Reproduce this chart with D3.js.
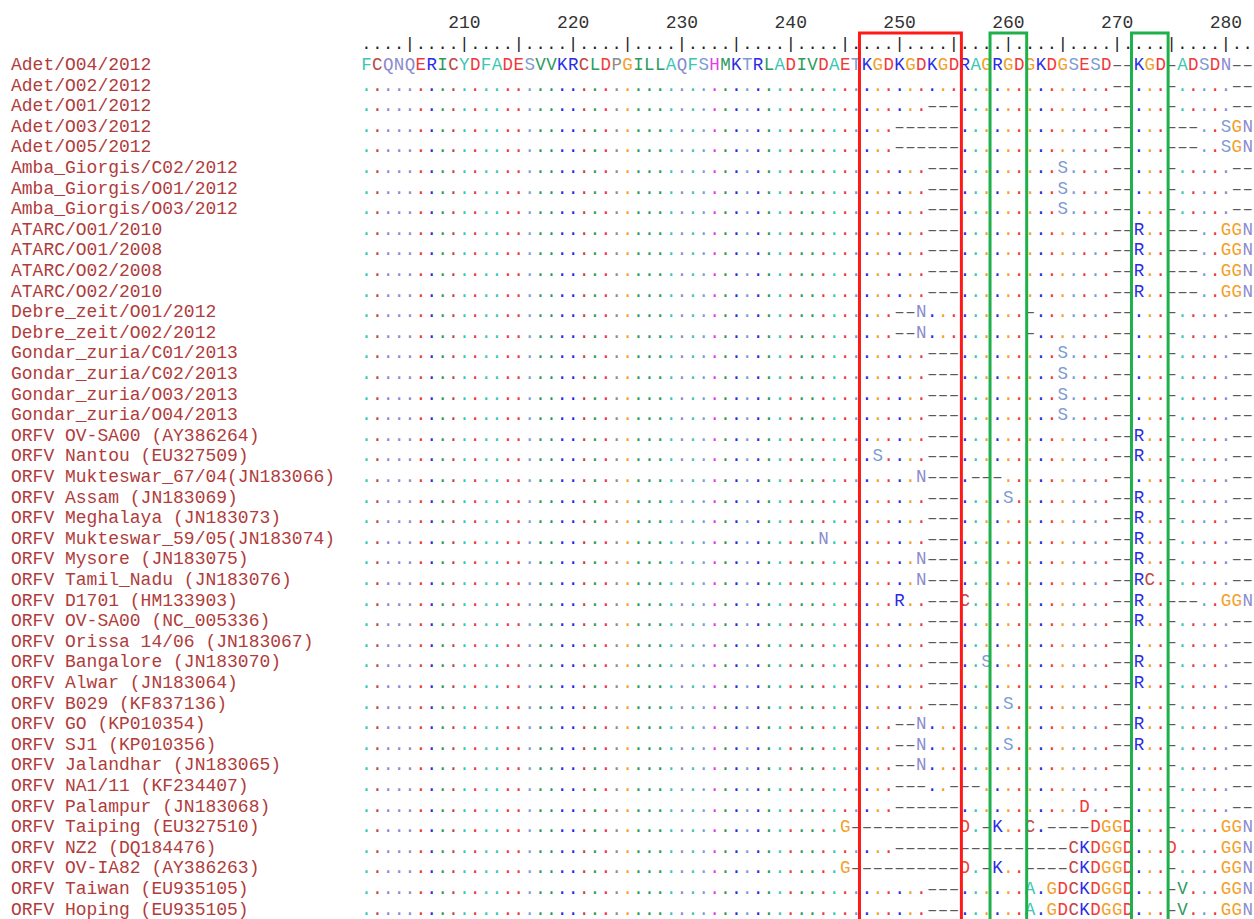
<!DOCTYPE html>
<html>
<head>
<meta charset="utf-8">
<script src="https://cdn.jsdelivr.net/npm/d3@7"></script>
<style>
  body { margin: 0; background: #fff; }
</style>
</head>
<body>
<div id="chart"></div>
<script>
// sequence names, top to bottom
const names = [
  "Adet/O04/2012", "Adet/O02/2012", "Adet/O01/2012", "Adet/O03/2012", "Adet/O05/2012",
  "Amba_Giorgis/C02/2012", "Amba_Giorgis/O01/2012", "Amba_Giorgis/O03/2012",
  "ATARC/O01/2010", "ATARC/O01/2008", "ATARC/O02/2008", "ATARC/O02/2010",
  "Debre_zeit/O01/2012", "Debre_zeit/O02/2012",
  "Gondar_zuria/C01/2013", "Gondar_zuria/C02/2013", "Gondar_zuria/O03/2013", "Gondar_zuria/O04/2013",
  "ORFV OV-SA00 (AY386264)", "ORFV Nantou (EU327509)", "ORFV Mukteswar_67/04(JN183066)",
  "ORFV Assam (JN183069)", "ORFV Meghalaya (JN183073)", "ORFV Mukteswar_59/05(JN183074)",
  "ORFV Mysore (JN183075)", "ORFV Tamil_Nadu (JN183076)", "ORFV D1701 (HM133903)",
  "ORFV OV-SA00 (NC_005336)", "ORFV Orissa 14/06 (JN183067)", "ORFV Bangalore (JN183070)",
  "ORFV Alwar (JN183064)", "ORFV B029 (KF837136)", "ORFV GO (KP010354)", "ORFV SJ1 (KP010356)",
  "ORFV Jalandhar (JN183065)", "ORFV NA1/11 (KF234407)", "ORFV Palampur (JN183068)",
  "ORFV Taiping (EU327510)", "ORFV NZ2 (DQ184476)", "ORFV OV-IA82 (AY386263)",
  "ORFV Taiwan (EU935105)", "ORFV Hoping (EU935105)"
];

// alignment columns 201..282
const positions = d3.range(201, 283);
const tickLabels = [210, 220, 230, 240, 250, 260, 270, 280];

// reference row (first sequence)
const reference = "FCQNQERICYDFADESVVKRCLDPGILLAQFSHMKTRLADIVDAETKGDKGDKGDRAGRGDGKDGSESD--KGD-ADSDN--";

// columns 201-240 are identical in every other row
const head = "........................................";

// columns 241-282 of the other rows ('.' = same as reference, '-' = gap)
const tails = [
  ".........." + ".........." + ".........-" + "-...-....." + "--", // Adet/O02
  ".........." + "..---....." + ".........-" + "-...-....." + "--", // Adet/O01
  ".........-" + "-----....." + ".........-" + "-...---..S" + "GN", // Adet/O03
  ".........-" + "-----....." + ".........-" + "-...---..S" + "GN", // Adet/O05
  ".........." + "..---....." + "....S....-" + "-...-....." + "--", // Amba C02
  ".........." + "..---....." + "....S....-" + "-...-....." + "--", // Amba O01
  ".........." + "..---....." + "....S....-" + "-...-....." + "--", // Amba O03
  ".........." + "..---....." + ".........-" + "-R..---..G" + "GN", // ATARC
  ".........." + "..---....." + ".........-" + "-R..---..G" + "GN",
  ".........." + "..---....." + ".........-" + "-R..---..G" + "GN",
  ".........." + "..---....." + ".........-" + "-R..---..G" + "GN",
  ".........-" + "-N........" + ".-.......-" + "-...-....." + "--", // Debre_zeit
  ".........-" + "-N........" + ".-.......-" + "-...-....." + "--",
  ".........." + "..---....." + "....S....-" + "-...-....." + "--", // Gondar
  ".........." + "..---....." + "....S....-" + "-...-....." + "--",
  ".........." + "..---....." + "....S....-" + "-...-....." + "--",
  ".........." + "..---....." + "....S....-" + "-...-....." + "--",
  ".........." + "..---....." + ".........-" + "-R..-....." + "--", // OV-SA00 AY
  ".......S.." + "..---....." + ".........-" + "-R..-....." + "--", // Nantou
  ".........." + ".N---.---." + ".........-" + "-...-....." + "--", // Mukteswar_67/04
  ".........." + "..---....S" + ".........-" + "-R..-....." + "--", // Assam
  ".........." + "..---....." + ".........-" + "-R..-....." + "--", // Meghalaya
  "..N......." + "..---....." + ".........-" + "-R..-....." + "--", // Mukteswar_59/05
  ".........." + ".N---....." + ".........-" + "-R..-....." + "--", // Mysore
  ".........." + ".N---....." + ".........-" + "-RC.-....." + "--", // Tamil_Nadu
  ".........R" + "..---C...." + ".........-" + "-R..---..G" + "GN", // D1701
  ".........." + "..---....." + ".........-" + "-R..-....." + "--", // OV-SA00 NC
  ".........." + "..---....." + ".........-" + "-...-....." + "--", // Orissa
  ".........." + "..---..S.." + ".........-" + "-R..-....." + "--", // Bangalore
  ".........." + "..---....." + ".........-" + "-R..-....." + "--", // Alwar
  ".........." + "..---....S" + ".........-" + "-...-....." + "--", // B029
  ".........-" + "-N........" + ".........-" + "-R..-....." + "--", // GO
  ".........-" + "-N.......S" + ".........-" + "-R..-....." + "--", // SJ1
  ".........-" + "-N........" + ".........-" + "-...-....." + "--", // Jalandhar
  ".........-" + "--..---..." + ".........-" + "-...-....." + "--", // NA1/11
  ".........-" + "-----....." + "......D..-" + "-...-....." + "--", // Palampur
  "....G-----" + "-----D.-K." + ".C.----DGG" + "D...-....G" + "GN", // Taiping
  ".........-" + "----------" + "-----CKDGG" + "D...D....G" + "GN", // NZ2
  "....G-----" + "-----D.-K." + ".----CKDGG" + "D...-....G" + "GN", // OV-IA82
  ".........." + "..---....." + ".A.GDCKDGG" + "D...-V...G" + "GN", // Taiwan
  ".........." + "..---....." + ".A.GDCKDGG" + "D...-V...G" + "GN"  // Hoping
];

const sequences = [reference].concat(tails.map(t => head + t));

// boxed motifs [first column, last column]
const redBoxes = [[247, 255]];
const greenBoxes = [[259, 261], [272, 274]];

const residueColors = {
  F: "#3cc6b4", Y: "#3cc6b4", A: "#3cc6b4",
  C: "#c24646", Q: "#8a8ad0", N: "#8a8ad0",
  E: "#f23838", D: "#f23838",
  R: "#2b2be6", K: "#2b2be6",
  I: "#2f9a5e", V: "#2f9a5e", L: "#2f9a5e", M: "#2f9a5e",
  S: "#7d9bd4", T: "#7d9bd4",
  P: "#8c8c8c", G: "#f2a22c", H: "#e83ae8"
};

const width = 1254, height = 919;
const font = "'Courier New', 'Liberation Mono', monospace";

const svg = d3.select("#chart").append("svg")
  .attr("width", width)
  .attr("height", height)
  .style("display", "block");

const x = d3.scaleBand()
  .domain(positions)
  .range([361, 361 + positions.length * 10.88]);

const y = d3.scalePoint()
  .domain(names)
  .range([70, 914.6]);

const bw = x.bandwidth();

// ruler numbers
svg.append("g").selectAll("text")
  .data(tickLabels)
  .enter().append("text")
  .attr("x", d => x(d) + bw / 2)
  .attr("y", 28)
  .attr("text-anchor", "middle")
  .attr("font-family", font)
  .attr("font-size", 18)
  .attr("fill", "#333")
  .text(d => d);

// ruler marks
svg.append("g").selectAll("text")
  .data(positions)
  .enter().append("text")
  .attr("x", d => x(d) + bw / 2)
  .attr("y", 49)
  .attr("text-anchor", "middle")
  .attr("font-family", font)
  .attr("font-size", 17)
  .attr("fill", "#222")
  .text(d => d % 5 === 0 ? "|" : ".");

// names
svg.append("g").selectAll("text")
  .data(names)
  .enter().append("text")
  .attr("x", 11)
  .attr("y", d => y(d))
  .attr("font-family", font)
  .attr("font-size", 18)
  .attr("fill", "#b03c3c")
  .attr("xml:space", "preserve")
  .text(d => d);

// alignment cells
const cells = [];
sequences.forEach((seq, r) => {
  for (let i = 0; i < positions.length; i++) {
    cells.push({ row: names[r], pos: positions[i], ch: seq[i], ref: reference[i] });
  }
});

svg.append("g").selectAll("text")
  .data(cells)
  .enter().append("text")
  .attr("x", d => x(d.pos) + bw / 2)
  .attr("y", d => y(d.row))
  .attr("text-anchor", "middle")
  .attr("font-family", font)
  .attr("font-size", d => d.ch === "." ? 18 : 17.5)
  .attr("fill", d => {
    if (d.ch === "-") return "#5a5a5a";
    if (d.ch === ".") return residueColors[d.ref] || "#5a5a5a";
    return residueColors[d.ch] || "#333";
  })
  .text(d => d.ch === "-" ? "\u2013" : d.ch);

// motif boxes
function drawBoxes(boxes, color) {
  svg.append("g").selectAll("rect")
    .data(boxes)
    .enter().append("rect")
    .attr("x", d => x(d[0]) - 2)
    .attr("y", 33)
    .attr("width", d => x(d[1]) + bw - x(d[0]) + 4)
    .attr("height", height)
    .attr("fill", "none")
    .attr("stroke", color)
    .attr("stroke-width", 3);
}
drawBoxes(redBoxes, "#ff1a1a");
drawBoxes(greenBoxes, "#1eb04a");
</script>
</body>
</html>
